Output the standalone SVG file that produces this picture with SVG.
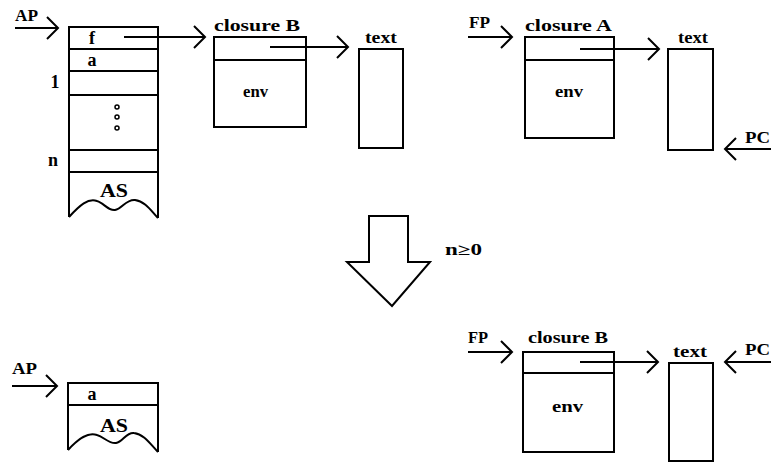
<svg xmlns="http://www.w3.org/2000/svg" width="772" height="463" viewBox="0 0 772 463">
  <style>
    .box { fill: none; stroke: #000; stroke-width: 2; }
    .ln { fill: none; stroke: #000; stroke-width: 2; }
    .lbl { font-family: "Liberation Serif", "Times New Roman", serif; font-weight: bold; font-size: 16px; fill: #000; }
    .big { font-size: 18px; }
    .arr { fill: none; stroke: #000; stroke-width: 2; marker-end: url(#chev); }
  </style>
  <defs>
    <marker id="chev" markerUnits="userSpaceOnUse" markerWidth="26" markerHeight="26" viewBox="-13 -13 26 26" refX="0" refY="0" orient="auto" overflow="visible">
      <path d="M-11,-11 L0,0 L-11,11" fill="none" stroke="#000" stroke-width="2"/>
    </marker>
  </defs>
  <rect width="772" height="463" fill="#fff"/>

  <!-- argument stack before the call -->
  <g id="stack-top">
    <rect class="box" x="69" y="27" width="89" height="145"/>
    <path class="ln" d="M69,49 H158 M69,71 H158 M69,95 H158 M69,150 H158"/>
    <path class="ln" d="M69,172 V217 M158,172 V218"/>
    <path class="ln" d="M69,217 C80,205 88,198 97,201 C104,203 108,211 115,210 C122,209 126,199 135,200 C145,201 152,212 158,218"/>
    <text class="lbl big" x="92" y="44" text-anchor="middle">f</text>
    <text class="lbl big" x="92" y="66" text-anchor="middle">a</text>
    <text class="lbl big" x="55" y="88" text-anchor="middle">1</text>
    <circle cx="117" cy="107" r="2" fill="none" stroke="#000" stroke-width="1.5"/>
    <circle cx="117" cy="117" r="2" fill="none" stroke="#000" stroke-width="1.5"/>
    <circle cx="117" cy="128" r="2" fill="none" stroke="#000" stroke-width="1.5"/>
    <text class="lbl big" x="53" y="166" text-anchor="middle">n</text>
    <text class="lbl big" x="100" y="197" textLength="28" lengthAdjust="spacingAndGlyphs">AS</text>
  </g>

  <g id="closure-b-top">
    <rect class="box" x="214" y="37" width="92" height="90"/>
    <path class="ln" d="M214,60 H306"/>
    <text class="lbl" x="214" y="31" textLength="86" lengthAdjust="spacingAndGlyphs">closure B</text>
    <text class="lbl" x="243" y="97" textLength="25" lengthAdjust="spacingAndGlyphs">env</text>
  </g>

  <g id="text-b-top">
    <rect class="box" x="359" y="49" width="44" height="99"/>
    <text class="lbl" x="365" y="43" textLength="32" lengthAdjust="spacingAndGlyphs">text</text>
  </g>

  <g id="closure-a">
    <rect class="box" x="525" y="37" width="89" height="101"/>
    <path class="ln" d="M525,60 H614"/>
    <text class="lbl" x="525" y="31" textLength="87" lengthAdjust="spacingAndGlyphs">closure A</text>
    <text class="lbl" x="555" y="97" textLength="28" lengthAdjust="spacingAndGlyphs">env</text>
  </g>

  <g id="text-a">
    <rect class="box" x="668" y="49" width="45" height="101"/>
    <text class="lbl" x="678" y="43" textLength="30" lengthAdjust="spacingAndGlyphs">text</text>
  </g>

  <!-- transition -->
  <g id="transition">
    <polygon class="box" points="369,216 408,216 408,262 430,262 392,306 347,262 369,262"/>
    <text class="lbl" x="445" y="255" textLength="37" lengthAdjust="spacingAndGlyphs">n≥0</text>
  </g>

  <!-- argument stack after the call -->
  <g id="stack-bottom">
    <rect class="box" x="68" y="383" width="90" height="22"/>
    <path class="ln" d="M68,405 V450 M158,405 V452"/>
    <path class="ln" d="M68,450 C79,438 88,432 97,435 C104,437 109,444 116,443 C123,442 126,432 134,433 C144,434 151,445 158,452"/>
    <text class="lbl big" x="92" y="400" text-anchor="middle">a</text>
    <text class="lbl big" x="100" y="432" textLength="28" lengthAdjust="spacingAndGlyphs">AS</text>
  </g>

  <g id="closure-b-bottom">
    <rect class="box" x="523" y="352" width="91" height="100"/>
    <path class="ln" d="M523,373 H614"/>
    <text class="lbl" x="528" y="343" textLength="80" lengthAdjust="spacingAndGlyphs">closure B</text>
    <text class="lbl" x="552" y="412" textLength="31" lengthAdjust="spacingAndGlyphs">env</text>
  </g>

  <g id="text-b-bottom">
    <rect class="box" x="669" y="363" width="44" height="98"/>
    <text class="lbl" x="673" y="357" textLength="34" lengthAdjust="spacingAndGlyphs">text</text>
  </g>

  <!-- pointers -->
  <g id="pointers">
    <text class="lbl" x="15" y="21" textLength="23" lengthAdjust="spacingAndGlyphs">AP</text>
    <text class="lbl" x="469" y="28" textLength="21" lengthAdjust="spacingAndGlyphs">FP</text>
    <text class="lbl" x="745" y="143" textLength="25" lengthAdjust="spacingAndGlyphs">PC</text>
    <text class="lbl" x="468" y="343" textLength="20" lengthAdjust="spacingAndGlyphs">FP</text>
    <text class="lbl" x="745" y="355" textLength="25" lengthAdjust="spacingAndGlyphs">PC</text>
    <text class="lbl" x="12" y="374" textLength="25" lengthAdjust="spacingAndGlyphs">AP</text>
  </g>

  <g id="connectors">
    <line class="arr" x1="15" y1="28" x2="58" y2="28"/>
    <line class="arr" x1="124" y1="37" x2="205" y2="37"/>
    <line class="arr" x1="270" y1="47" x2="348" y2="47"/>
    <line class="arr" x1="468" y1="37" x2="512" y2="37"/>
    <line class="arr" x1="580" y1="49" x2="659" y2="49"/>
    <line class="arr" x1="771" y1="149" x2="725" y2="149"/>
    <line class="arr" x1="468" y1="352" x2="512" y2="352"/>
    <line class="arr" x1="580" y1="362" x2="658" y2="362"/>
    <line class="arr" x1="771" y1="362" x2="725" y2="362"/>
    <line class="arr" x1="12" y1="386" x2="57" y2="386"/>
  </g>
</svg>
